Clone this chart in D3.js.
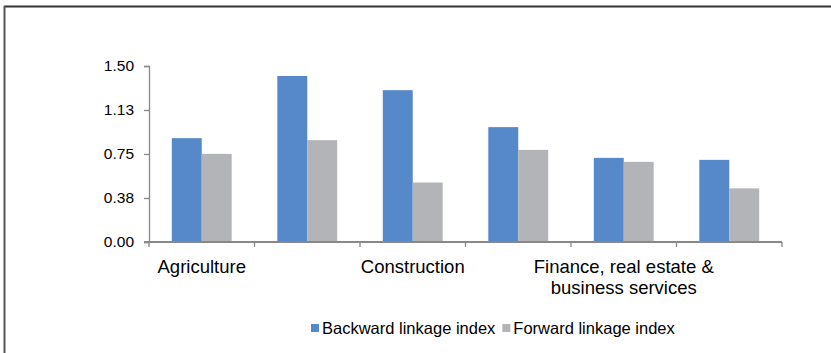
<!DOCTYPE html>
<html>
<head>
<meta charset="utf-8">
<script src="https://cdn.jsdelivr.net/npm/d3@7/dist/d3.min.js"></script>
<style>
  html, body { margin: 0; padding: 0; background: #fff; }
  svg { display: block; font-family: "Liberation Sans", Arial, sans-serif; }
</style>
</head>
<body>
<svg id="chart" width="831" height="353"></svg>
<script>
// Sector linkage indices
const categories = [
  "Agriculture",
  "Manufacturing",
  "Construction",
  "Trade & transport",
  "Finance, real estate & business services",
  "Community services"
];
// Only every other category is labelled on the axis
const shownLabels = [
  ["Agriculture"],
  null,
  ["Construction"],
  null,
  ["Finance, real estate &", "business services"],
  null
];
const seriesNames = ["Backward linkage index", "Forward linkage index"];
const backward = [0.885, 1.415, 1.294, 0.979, 0.717, 0.700];
const forward  = [0.751, 0.868, 0.507, 0.785, 0.683, 0.457];
const yTicks = [0, 0.375, 0.75, 1.125, 1.5];
const colors = ["#5589c9", "#b3b4b7"];

const svg = d3.select("#chart");
const axisColor = "#888888";

// Outer frame (top and left edges)
svg.append("line").attr("x1", 4).attr("x2", 831).attr("y1", 6.5).attr("y2", 6.5)
  .attr("stroke", "#333").attr("stroke-width", 2);
svg.append("line").attr("x1", 4.5).attr("x2", 4.5).attr("y1", 6).attr("y2", 353)
  .attr("stroke", "#555").attr("stroke-width", 2);

const plot = { left: 149, right: 782, top: 66, bottom: 242 };

const x0 = d3.scaleBand().domain(categories).range([plot.left, plot.right]).padding(0);
const groupGap = 22.8;
const x1 = d3.scaleBand().domain(seriesNames)
  .range([groupGap, x0.bandwidth() - groupGap]).padding(0);
const y = d3.scaleLinear().domain([0, 1.5]).range([plot.bottom, plot.top]);

// Bars
const rows = categories.map((c, i) => ({ c, vals: [backward[i], forward[i]] }));
const groups = svg.append("g").selectAll("g").data(rows).join("g")
  .attr("transform", d => `translate(${x0(d.c)},0)`);
groups.selectAll("rect").data(d => d.vals.map((v, k) => ({ v, k })))
  .join("rect")
  .attr("x", d => x1(seriesNames[d.k]))
  .attr("width", x1.bandwidth())
  .attr("y", d => y(d.v))
  .attr("height", d => y(0) - y(d.v))
  .attr("fill", d => colors[d.k]);

// Y axis
const yAxis = d3.axisLeft(y).tickValues(yTicks).tickSize(5).tickPadding(10)
  .tickFormat(d => (Math.round(d * 100 + 1e-9) / 100).toFixed(2));
const gy = svg.append("g").attr("transform", `translate(${plot.left},0)`).call(yAxis);
gy.select(".domain").attr("stroke", axisColor).attr("stroke-width", 1.3);
gy.selectAll(".tick line").attr("stroke", axisColor).attr("stroke-width", 1.3);
gy.selectAll(".tick text").attr("fill", "#000").attr("font-size", 15.5)
  .attr("font-family", "Liberation Sans, Arial, sans-serif");

// X axis: baseline with boundary ticks
const gx = svg.append("g").attr("transform", `translate(0,${plot.bottom})`);
gx.append("line").attr("x1", plot.left - 5).attr("x2", plot.right)
  .attr("stroke", axisColor).attr("stroke-width", 1.8);
const bounds = categories.map(c => x0(c)).concat([plot.right]);
gx.selectAll("line.tk").data(bounds).join("line").attr("class", "tk")
  .attr("x1", d => d).attr("x2", d => d).attr("y1", 0).attr("y2", 5)
  .attr("stroke", axisColor).attr("stroke-width", 1.3);

// Category labels
const lbl = svg.append("g").selectAll("text")
  .data(categories.map((c, i) => ({ c, lines: shownLabels[i] })).filter(d => d.lines))
  .join("text")
  .attr("x", d => x0(d.c) + x0.bandwidth() / 2)
  .attr("y", 273)
  .attr("text-anchor", "middle")
  .attr("font-size", 18.5)
  .attr("fill", "#000");
lbl.selectAll("tspan").data(d => d.lines.map(t => ({ t, x: x0(d.c) + x0.bandwidth() / 2 })))
  .join("tspan")
  .attr("x", d => d.x)
  .attr("dy", (d, i) => i === 0 ? 0 : 21)
  .text(d => d.t);

// Legend
const legend = svg.append("g").attr("transform", "translate(311,328)");
let lx = 0;
seriesNames.forEach((name, k) => {
  const item = legend.append("g").attr("transform", `translate(${lx},0)`);
  item.append("rect").attr("x", 0).attr("y", -4).attr("width", 8).attr("height", 8)
    .attr("fill", colors[k]);
  const t = item.append("text").attr("x", 11).attr("y", 5.5)
    .attr("font-size", 16.5).attr("fill", "#000").text(name);
  lx += 11 + t.node().getComputedTextLength() + 7;
});
</script>
</body>
</html>
